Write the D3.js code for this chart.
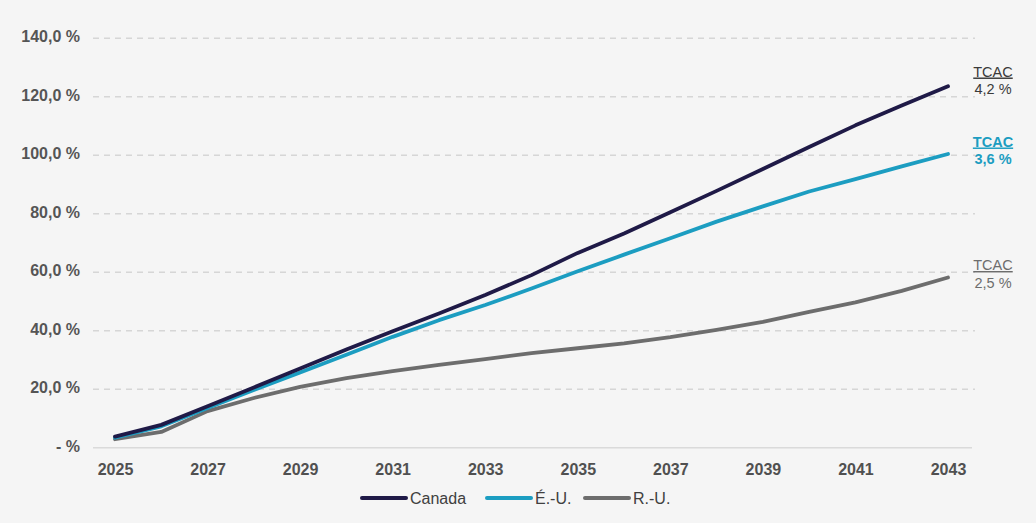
<!DOCTYPE html>
<html><head><meta charset="utf-8">
<script src="https://cdn.jsdelivr.net/npm/d3@7"></script>
<style>
html,body{margin:0;padding:0;background:#f5f5f5;}
svg{display:block;font-family:"Liberation Sans",Arial,sans-serif;}
</style></head>
<body><svg id="c" width="1036" height="523"></svg>
<script>
const years = [2025,2026,2027,2028,2029,2030,2031,2032,2033,2034,2035,2036,2037,2038,2039,2040,2041,2042,2043];
const canada = [3.8,7.8,14.2,20.6,27.1,33.6,39.8,45.9,52.2,59.0,66.6,73.2,80.5,87.8,95.3,102.8,110.2,117.0,123.6];
const usa    = [3.4,7.3,13.6,19.7,25.7,31.8,37.9,43.6,48.8,54.4,60.3,66.0,71.6,77.3,82.5,87.6,91.8,96.2,100.4];
const uk     = [2.9,5.4,12.5,17.0,20.8,23.8,26.2,28.3,30.3,32.3,34.0,35.7,37.8,40.3,43.0,46.4,49.7,53.6,58.2];
const seriesNames = ["Canada","É.-U.","R.-U."];
const seriesColors = ["#1f1a47","#1c9dc1","#6d6d6d"];
const yTicks = [0,20,40,60,80,100,120,140];
const xTicks = [2025,2027,2029,2031,2033,2035,2037,2039,2041,2043];
const cagrLabels = ["4,2 %","3,6 %","2,5 %"];
const cagrTitle = "TCAC";

const svg = d3.select("#c");
const x = d3.scaleLinear().domain([2025,2043]).range([115,948]);
const y = d3.scaleLinear().domain([0,140]).range([447.7,38.2]);
const gridX0 = 93, gridX1 = 975;
const fmt = v => v === 0 ? "- %" : d3.format(".1f")(v).replace(".", ",") + " %";
const FF = "'Liberation Sans',Arial,sans-serif";

// grid lines
svg.append("g").selectAll("line").data(yTicks.filter(d=>d>0)).join("line")
  .attr("x1",gridX0).attr("x2",gridX1)
  .attr("y1",d=>y(d)).attr("y2",d=>y(d))
  .attr("stroke","#d6d6d6").attr("stroke-width",1.5).attr("stroke-dasharray","6,5");
svg.append("line").attr("x1",gridX0).attr("x2",972).attr("y1",y(0)).attr("y2",y(0))
  .attr("stroke","#dadada").attr("stroke-width",1.5);

// y axis labels
const yAxis = d3.axisLeft(y).tickValues(yTicks).tickFormat(fmt).tickSize(0).tickPadding(0);
const gy = svg.append("g").attr("transform","translate(80,-1.5)").call(yAxis);
gy.select(".domain").remove();
gy.selectAll("text").attr("font-size",16).attr("font-weight","bold").attr("fill","#555")
  .attr("font-family",FF);

// x axis labels
const xAxis = d3.axisBottom(x).tickValues(xTicks).tickFormat(d3.format("d")).tickSize(0).tickPadding(0);
const gx = svg.append("g").attr("transform","translate(0,464)").call(xAxis);
gx.select(".domain").remove();
gx.selectAll("text").attr("font-size",16).attr("font-weight","bold").attr("fill","#505050")
  .attr("font-family",FF);

// lines
const data = [canada, usa, uk];
const line = d3.line().x((d,i)=>x(years[i])).y(d=>y(d));
[2,1,0].forEach(k=>{
  svg.append("path").datum(data[k]).attr("d",line).attr("fill","none")
    .attr("stroke",seriesColors[k]).attr("stroke-width",3.8)
    .attr("stroke-linecap","round").attr("stroke-linejoin","round");
});

// CAGR labels
const cagrY = [76.5, 146.5, 270];
const cagrColors = ["#3a3a3a","#1c9dc1","#6d6d6d"];
cagrY.forEach((yy,k)=>{
  svg.append("text").attr("x",993).attr("y",yy).attr("text-anchor","middle")
    .attr("font-size",14.5).attr("fill",cagrColors[k]).attr("text-decoration","underline")
    .attr("font-weight", k===1 ? "bold" : "normal").text(cagrTitle);
  svg.append("text").attr("x",993).attr("y",yy+17.5).attr("text-anchor","middle")
    .attr("font-size",14.5).attr("fill",cagrColors[k])
    .attr("font-weight", k===1 ? "bold" : "normal").text(cagrLabels[k]);
});

// legend
const legX = [362, 487, 585];
seriesNames.forEach((n,k)=>{
  svg.append("line").attr("x1",legX[k]).attr("x2",legX[k]+44).attr("y1",498).attr("y2",498)
    .attr("stroke",seriesColors[k]).attr("stroke-width",4).attr("stroke-linecap","round");
  svg.append("text").attr("x",legX[k]+48).attr("y",504).attr("font-size",16)
    .attr("fill","#404040").text(n);
});
</script></body></html>
